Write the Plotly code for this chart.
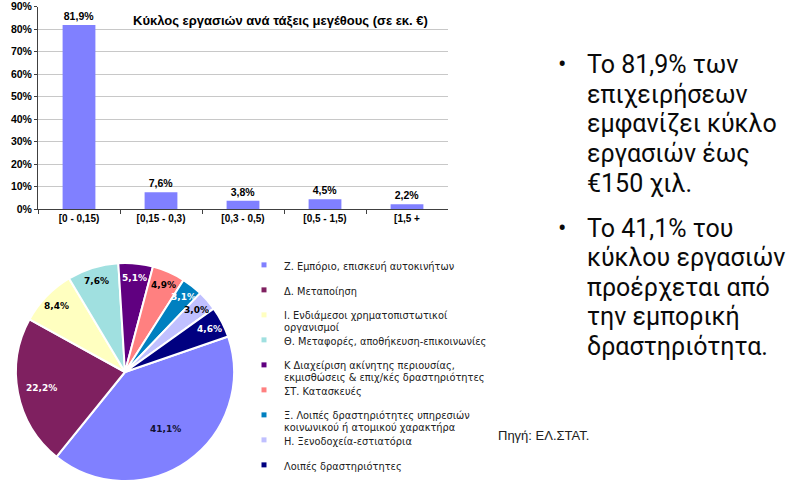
import numpy as np
import plotly.graph_objects as go

W, H = 796, 482

# ---------------- data ----------------
bar_categories = ["[0 - 0,15)", "[0,15 - 0,3)", "[0,3 - 0,5)", "[0,5 - 1,5)", "[1,5 +"]
bar_values = [81.9, 7.6, 3.8, 4.5, 2.2]
bar_title = "Κύκλος εργασιών ανά τάξεις μεγέθους (σε εκ. €)"
y_ticks = [0, 10, 20, 30, 40, 50, 60, 70, 80, 90]

pie_labels = [
    "Ζ. Εμπόριο, επισκευή αυτοκινήτων",
    "Δ. Μεταποίηση",
    "Ι. Ενδιάμεσοι χρηματοπιστωτικοί<br>οργανισμοί",
    "Θ. Μεταφορές, αποθήκευση-επικοινωνίες",
    "Κ Διαχείριση ακίνητης περιουσίας,<br>εκμισθώσεις & επιχ/κές δραστηριότητες",
    "ΣΤ. Κατασκευές",
    "Ξ. Λοιπές δραστηριότητες υπηρεσιών<br>κοινωνικού ή ατομικού χαρακτήρα",
    "Η. Ξενοδοχεία-εστιατόρια",
    "Λοιπές δραστηριότητες",
]
pie_values = [41.1, 22.2, 8.4, 7.6, 5.1, 4.9, 3.1, 3.0, 4.6]
pie_colors = ["#8080FF", "#7F2060", "#FFFFC0", "#A0E0E0", "#600080",
              "#FF8080", "#0080C0", "#C0C0FF", "#000080"]
pie_text_colors = ["#101030", "white", "black", "black", "white",
                   "black", "white", "black", "white"]

bullet1 = ["Το 81,9% των", "επιχειρήσεων", "εμφανίζει κύκλο", "εργασιών έως", "€150 χιλ."]
bullet2 = ["Το 41,1% του", "κύκλου εργασιών", "προέρχεται από", "την εμπορική", "δραστηριότητα."]
source_text = "Πηγή: ΕΛ.ΣΤΑΤ."

def fmt(v):
    return f"{v:.1f}%".replace(".", ",")

def px_x(x):
    return x / W

def px_y(y):
    return 1 - y / H

fig = go.Figure()

# ---------------- bar chart ----------------
fig.add_trace(go.Bar(
    x=bar_categories, y=bar_values,
    marker=dict(color="#8080FF", line=dict(width=0)),
    width=0.4,
    text=[fmt(v) for v in bar_values],
    textposition="outside",
    textfont=dict(family="Liberation Sans", size=10.5, color="black", weight="bold"),
    cliponaxis=False,
    showlegend=False,
    hoverinfo="skip",
))

fig.update_xaxes(
    domain=[px_x(38), px_x(448)],
    showline=True, linecolor="#404040", linewidth=1,
    ticks="outside", tickson="boundaries", ticklen=4, tickcolor="#404040",
    tickfont=dict(family="Liberation Sans", size=10, color="black", weight="bold"),
    showgrid=False, fixedrange=True,
)
fig.update_yaxes(
    domain=[px_y(209.3), px_y(6.8)],
    range=[0, 90],
    tickvals=y_ticks, ticktext=[f"{t}%" for t in y_ticks],
    showline=True, linecolor="#404040", linewidth=1,
    ticks="outside", ticklen=3, tickcolor="#404040",
    tickfont=dict(family="Liberation Sans", size=10.5, color="black", weight="bold"),
    showgrid=True, gridcolor="#C8C8C8", gridwidth=1,
    zeroline=False, fixedrange=True,
)

# ---------------- pie chart ----------------
cx, cy, R = 125, 372, 109
rotation = 71
fig.add_trace(go.Pie(
    labels=pie_labels, values=pie_values,
    sort=False, direction="clockwise", rotation=rotation,
    marker=dict(colors=pie_colors, line=dict(color="white", width=2)),
    textinfo="none", hoverinfo="skip",
    domain=dict(x=[px_x(cx - R), px_x(cx + R)], y=[px_y(cy + R), px_y(cy - R)]),
    showlegend=False,
))

# pie labels, placed from the data's cumulative angles
vals = np.array(pie_values)
cum = np.cumsum(vals) - vals / 2
angles = np.deg2rad(rotation + 360 * cum / vals.sum())
for v, a, col in zip(pie_values, angles, pie_text_colors):
    rf = 0.64 if v > 30 else (0.78 if v > 15 else 0.87)
    lx = cx + rf * R * np.sin(a)
    ly = cy - rf * R * np.cos(a)
    fig.add_annotation(
        x=px_x(lx), y=px_y(ly), xref="paper", yref="paper",
        text=fmt(v), showarrow=False, xanchor="center", yanchor="middle",
        font=dict(family="DejaVu Sans", size=9, color=col, weight="bold"),
    )

# legend entries (small square markers), one legend box per entry
legend_top = 264
legend_step = 25
for i, (lab, col) in enumerate(zip(pie_labels, pie_colors)):
    key = "legend" if i == 0 else f"legend{i + 1}"
    fig.add_trace(go.Scatter(
        x=[None], y=[None], mode="markers", name=lab,
        marker=dict(symbol="square", size=5, color=col),
        showlegend=True, hoverinfo="skip", legend=key,
    ))
    fig.update_layout({key: dict(
        x=px_x(244), y=px_y(legend_top + i * legend_step - 12),
        xanchor="left", yanchor="top",
        xref="container", yref="container",
        font=dict(family="DejaVu Sans", size=9.8, color="#202020"),
        itemsizing="trace", valign="top",
        bgcolor="rgba(0,0,0,0)", itemclick=False, itemdoubleclick=False,
    )})

# ---------------- title ----------------
fig.add_annotation(
    x=px_x(280), y=px_y(21), xref="paper", yref="paper",
    text=bar_title, showarrow=False, xanchor="center", yanchor="middle",
    font=dict(family="Liberation Sans", size=13, color="black", weight="bold"),
)

# ---------------- right-hand text ----------------
text_font = dict(family="Roboto", size=25, color="#0A0A0A")
line_h = 29.5
for start_y, lines in [(65, bullet1), (228, bullet2)]:
    fig.add_annotation(
        x=px_x(556), y=px_y(start_y), xref="paper", yref="paper",
        text="•", showarrow=False, xanchor="left", yanchor="middle",
        font=text_font,
    )
    for i, ln in enumerate(lines):
        fig.add_annotation(
            x=px_x(585), y=px_y(start_y + i * line_h), xref="paper", yref="paper",
            text=ln, showarrow=False, xanchor="left", yanchor="middle",
            font=text_font,
        )

fig.add_annotation(
    x=px_x(496), y=px_y(435), xref="paper", yref="paper",
    text=source_text, showarrow=False, xanchor="left", yanchor="middle",
    font=dict(family="Liberation Sans", size=13, color="#202020"),
)

fig.update_layout(
    width=W, height=H,
    margin=dict(l=0, r=0, t=0, b=0, autoexpand=False),
    paper_bgcolor="white", plot_bgcolor="white",
    bargap=0.6,
)

fig.write_html("out.html", config={"displayModeBar": False})
